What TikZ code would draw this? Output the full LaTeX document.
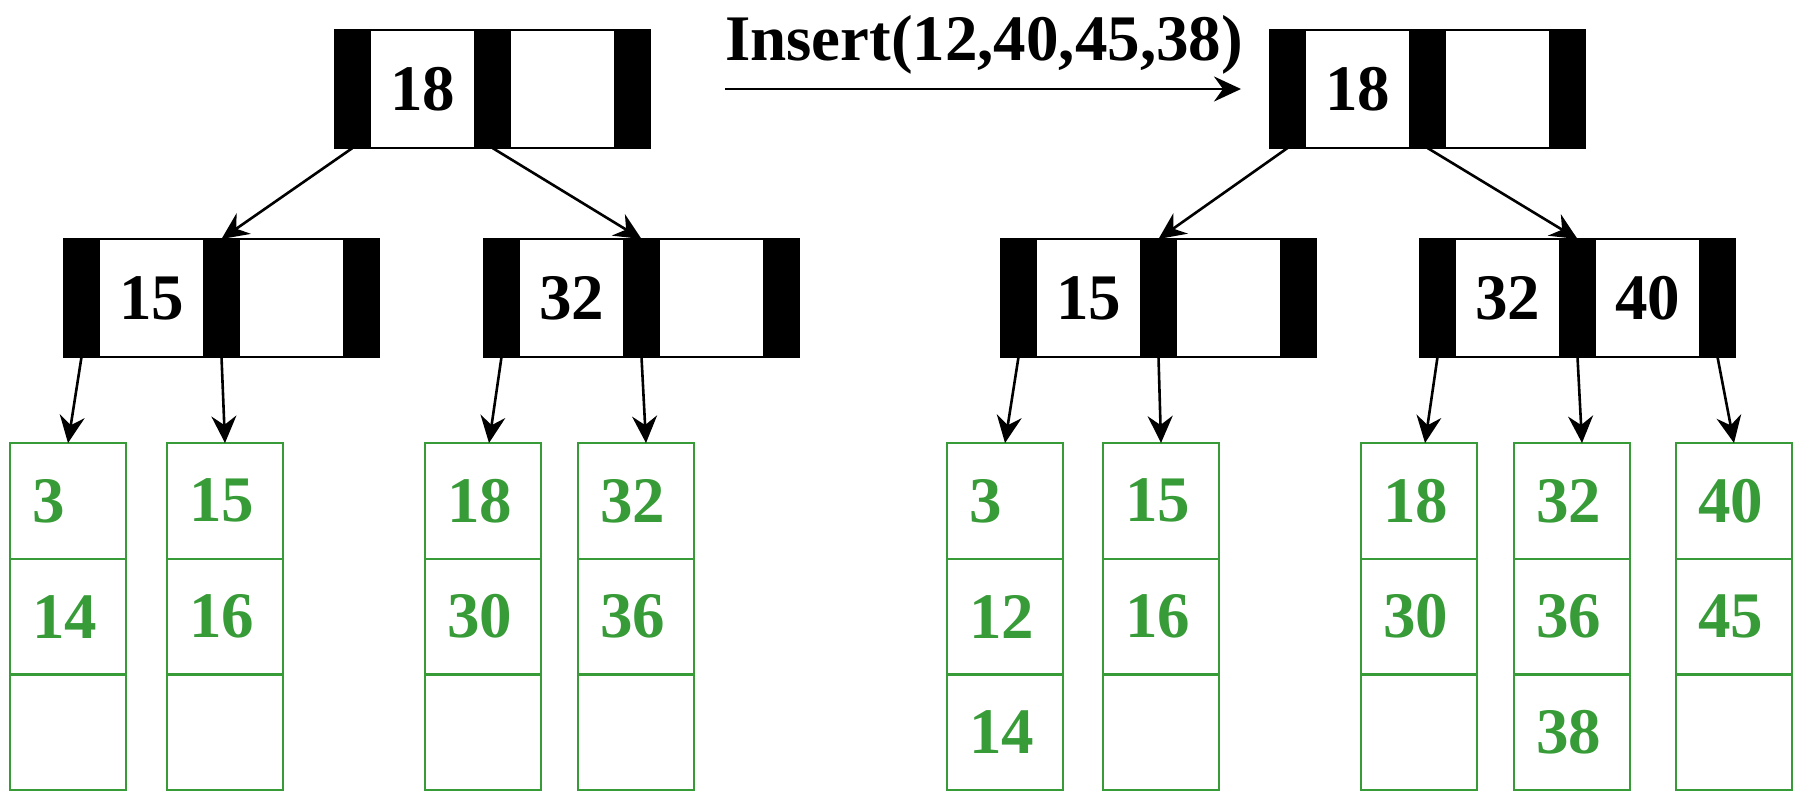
\documentclass[tikz,border=0pt]{standalone}
\usepackage{fontspec}
\setmainfont{Liberation Serif}
\usetikzlibrary{arrows.meta,calc}
\definecolor{lgreen}{RGB}{55,155,55}
\newcommand\bigfont{\fontsize{65}{70}\selectfont\bfseries}
\tikzset{
 every node/.style={outer sep=0pt, inner sep=0pt},
 bar/.style={draw=black, fill=black, line width=2pt, minimum width=35pt, minimum height=118pt},
 kcell/.style={draw=black, line width=2pt, minimum width=105pt, minimum height=118pt, font=\bigfont},
 lcell/.style={draw=lgreen, line width=2.2pt, text=lgreen, minimum height=115.7pt, text width=72pt, inner xsep=22pt, align=left, font=\bigfont},
 edge/.style={line width=2.6pt, -{Stealth[length=27pt,width=25pt,inset=9pt]}},
}
\newcommand\bpnode[5]{%
 \node[bar, anchor=north west] (#1b0) at (#2,#3) {};
 \node[kcell, anchor=north west] (#1c1) at (#1b0.north east) {#4};
 \node[bar, anchor=north west] (#1b1) at (#1c1.north east) {};
 \node[kcell, anchor=north west] (#1c2) at (#1b1.north east) {#5};
 \node[bar, anchor=north west] (#1b2) at (#1c2.north east) {};
}
\newcommand\leafnode[6]{%
 \node[lcell, anchor=north west] (#1a) at (#2,#3) {#4};
 \node[lcell, anchor=north] (#1b) at (#1a.south) {#5};
 \node[lcell, anchor=north] (#1c) at (#1b.south) {#6};
}
\begin{document}
\begin{tikzpicture}[x=1pt,y=-1pt]
\useasboundingbox (0,0) rectangle (1798,792);
% left tree
\bpnode{rL}{335}{30}{18}{}
\bpnode{A}{64}{239}{15}{}
\bpnode{B}{484}{239}{32}{}
\leafnode{La}{10}{443}{3}{14}{}
\leafnode{Lb}{167}{443}{15}{16}{}
\leafnode{Lc}{425}{443}{18}{30}{}
\leafnode{Ld}{578}{443}{32}{36}{}
\draw[edge] (rLb0.south) -- (Ab1.north);
\draw[edge] (rLb1.south) -- (Bb1.north);
\draw[edge] (Ab0.south) -- (Laa.north);
\draw[edge] (Ab1.south) -- (Lba.north);
\draw[edge] (Bb0.south) -- ([xshift=6pt]Lca.north);
\draw[edge] (Bb1.south) -- ([xshift=10pt]Lda.north);
% insert arrow
\node[anchor=base west, font=\bigfont] (ins) at (725,60) {Insert(12,40,45,38)};
\coordinate (insA) at (725,89);
\coordinate (insB) at (1241,89);
\draw[edge] (insA) -- (insB);
% right tree
\bpnode{rR}{1270}{30}{18}{}
\bpnode{C}{1001}{239}{15}{}
\bpnode{D}{1420}{239}{32}{40}
\leafnode{Re}{947}{443}{3}{12}{14}
\leafnode{Rf}{1103}{443}{15}{16}{}
\leafnode{Rg}{1361}{443}{18}{30}{}
\leafnode{Rh}{1514}{443}{32}{36}{38}
\leafnode{Ri}{1676}{443}{40}{45}{}
\draw[edge] (rRb0.south) -- (Cb1.north);
\draw[edge] (rRb1.south) -- (Db1.north);
\draw[edge] (Cb0.south) -- (Rea.north);
\draw[edge] (Cb1.south) -- (Rfa.north);
\draw[edge] (Db0.south) -- ([xshift=6pt]Rga.north);
\draw[edge] (Db1.south) -- ([xshift=10pt]Rha.north);
\draw[edge] (Db2.south) -- (Ria.north);
\end{tikzpicture}
\end{document}
